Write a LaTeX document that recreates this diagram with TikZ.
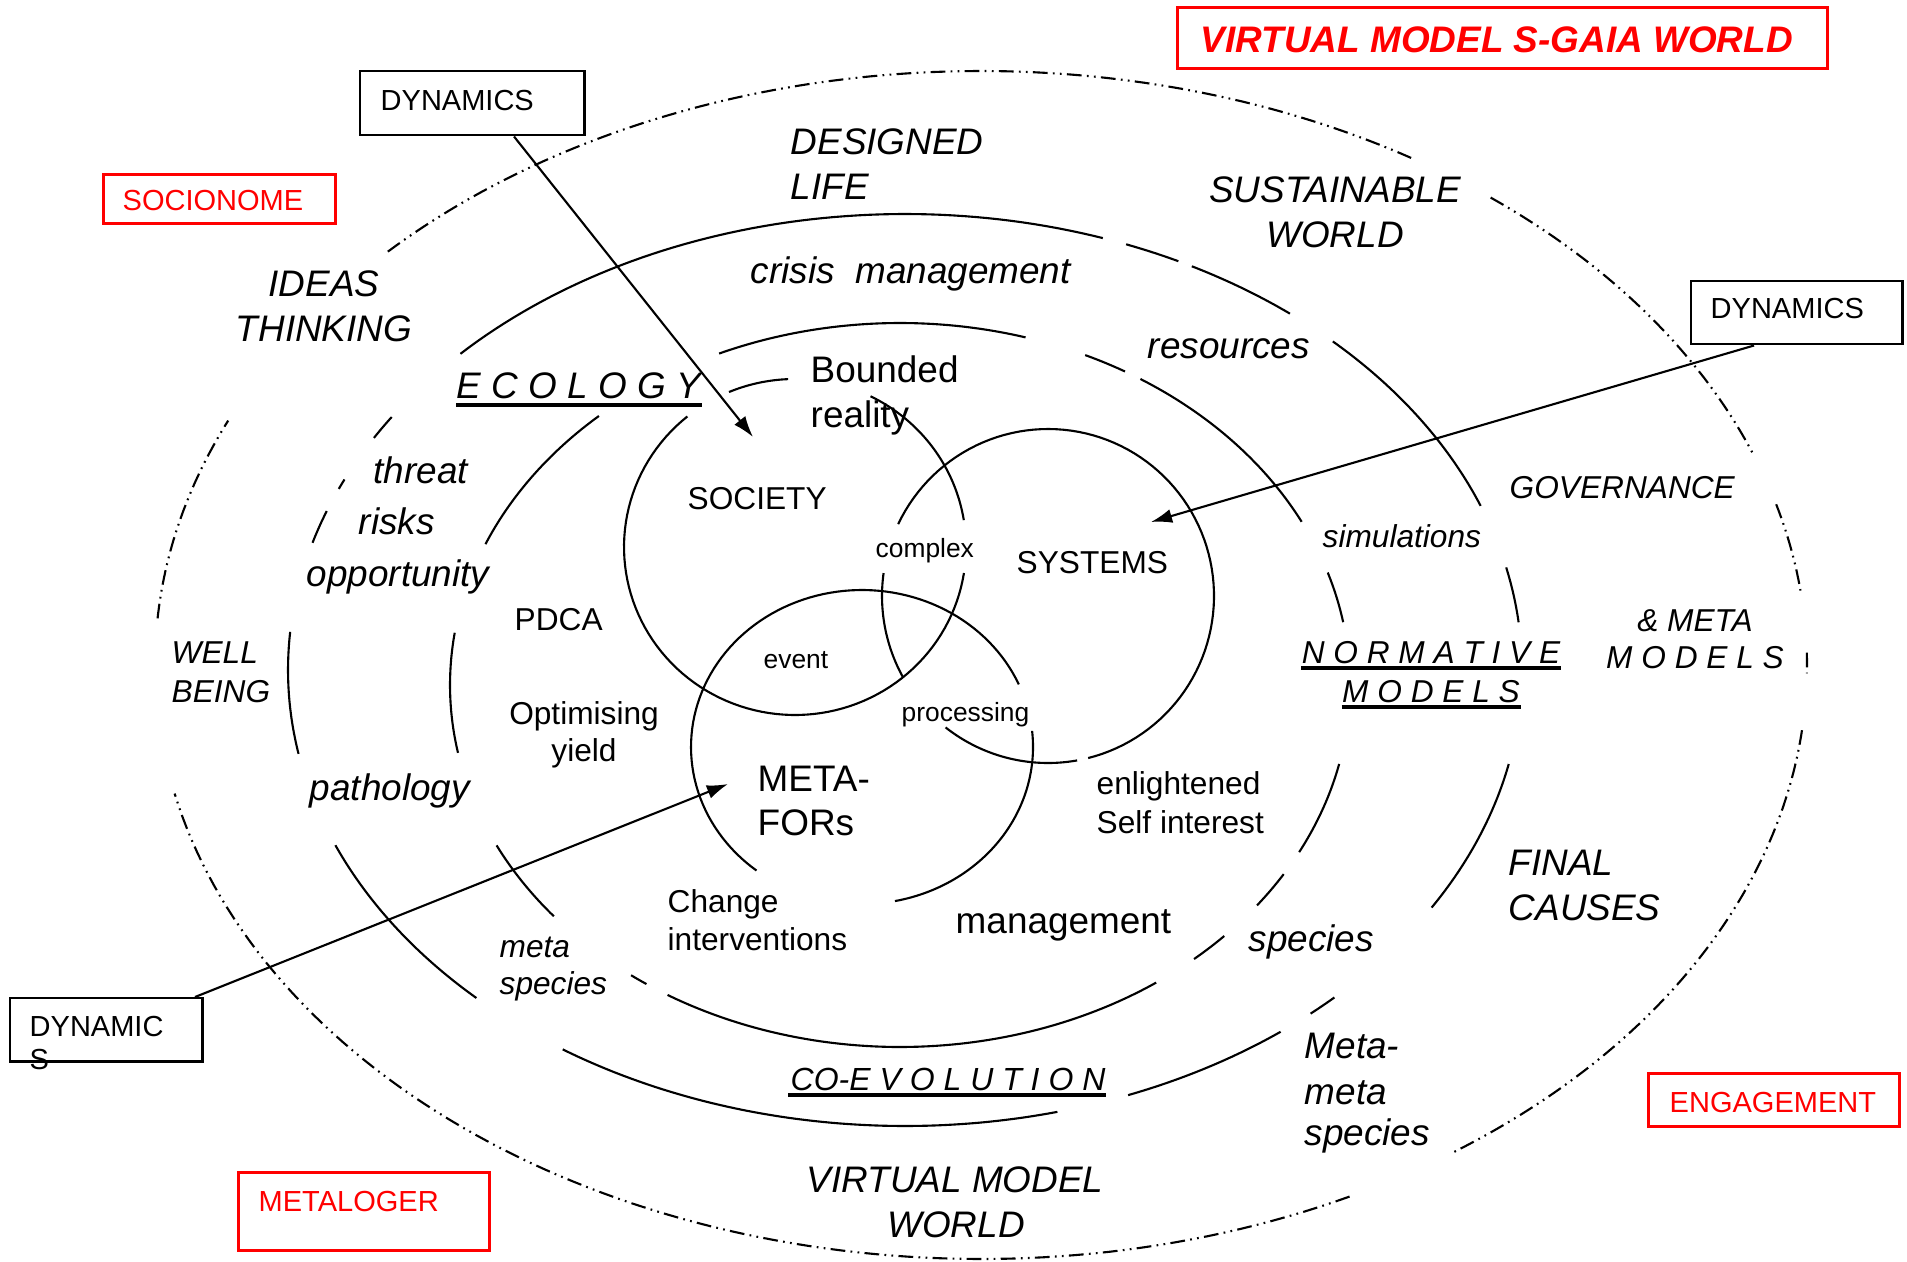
\documentclass[tikz,border=0pt]{standalone}
\usepackage{fontspec}
\setmainfont{Liberation Sans}
\usetikzlibrary{arrows.meta,calc}
\newcommand\szA{\fontsize{10.5}{12.6}\selectfont}
\newcommand\szB{\fontsize{9}{10.8}\selectfont}
\newcommand\szC{\fontsize{7.5}{9}\selectfont}
\newcommand\szD{\fontsize{8.25}{9.9}\selectfont}
\newcommand\szE{\fontsize{9.1}{10.9}\selectfont}
\begin{document}
\begin{tikzpicture}[x=0.01cm,y=-0.01cm,
  ring/.style={line width=0.6pt},
  wring/.style={line width=0.6pt, dash pattern=on 4.2pt off 1.5pt on 0.5pt off 1.5pt on 0.5pt off 1.5pt},
  blackbox/.style={draw, line width=0.7pt, inner sep=0pt, anchor=north west},
  redbox/.style={draw=red, line width=0.8pt, inner sep=0pt, anchor=north west},
  txt/.style={inner sep=0pt, anchor=base west},
  ctxt/.style={inner sep=0pt, anchor=base},
  ul/.style={line width=0.9pt},
  arr/.style={line width=0.6pt, -{Latex[length=6pt,width=4pt]}}
]
\useasboundingbox (0,0) rectangle (1907,1261);
\fill[white] (0,0) rectangle (1907,1261);

% boxes
\node[redbox, minimum width=6.5cm, minimum height=0.61cm] (ttlbox) at (1176,6) {};
\node[redbox, minimum width=2.32cm, minimum height=0.49cm] (socbox) at (102,173) {};
\node[redbox, minimum width=2.51cm, minimum height=0.78cm] (metbox) at (237,1171) {};
\node[redbox, minimum width=2.51cm, minimum height=0.53cm] (engbox) at (1647,1072) {};
\node[blackbox, minimum width=2.24cm, minimum height=0.64cm] (dynA) at (359,70) {};
\node[blackbox, minimum width=2.11cm, minimum height=0.63cm] (dynB) at (1690,280) {};
\node[blackbox, minimum width=1.92cm, minimum height=0.63cm] (dynC) at (9,997) {};

% outer dash-dot world ellipse
\foreach \a/\b in {224.1/301.4, 308.1/339.1, 344.3/352.8, 358.8/360.8, 366.3/415.2, 63.5/167.5, 184.5/204.3}
  \draw[wring] plot[domain=\a:\b, samples=90, variable=\t] ({981+826*cos(\t)},{665+594*sin(\t)});
% ring 3
\foreach \a/\b in {223.9/288.7, 291.0/296.3, 297.7/308.6, 313.9/338.9, 347.0/354.0, 11.9/31.4, 45.9/48.9, 52.5/68.8, 75.7/123.7, 134.0/157.4, 169.4/184.8, 196.2/200.4, 203.4/204.7, 210.6/213.7}
  \draw[ring] plot[domain=\a:\b, samples=60, variable=\t] ({905+617*cos(\t)},{670+456*sin(\t)});
% ring 2
\foreach \a/\b in {246.3/286.2, 294.3/300.0, 302.3/333.2, 341.9/350.0, 12.6/27.5, 31.5/37.5, 43.9/49.2, 55.3/121.1, 124.3/126.7, 140.3/153.7, 169.2/188.3, 202.9/228.0}
  \draw[ring] plot[domain=\a:\b, samples=60, variable=\t] ({900+450*cos(\t)},{685+362*sin(\t)});
% society circle
\foreach \a/\b in {8.9/231.0, 247.3/267.7, 296.2/350.8}
  \draw[ring] plot[domain=\a:\b, samples=90, variable=\t] ({795+171*cos(\t)},{547+168*sin(\t)});
% systems circle
\foreach \a/\b in {205.5/436.0, 79.9/128.1, 150.7/187.9}
  \draw[ring] plot[domain=\a:\b, samples=90, variable=\t] ({1048+166*cos(\t)},{596+167*sin(\t)});
% metafors circle
\foreach \a/\b in {128.1/336.5, 354.1/438.9}
  \draw[ring] plot[domain=\a:\b, samples=90, variable=\t] ({862+171*cos(\t)},{747+157*sin(\t)});

% arrows
\coordinate (tA) at (753,437);
\coordinate (tB) at (1151,522);
\coordinate (tC) at (728,784);
\draw[arr] ($(dynA.south west)+(155,0)$) -- (tA);
\draw[arr] ($(dynB.south west)+(64,0)$) -- (tB);
\draw[arr] ($(dynC.north west)+(186,0)$) -- (tC);

% box labels
\node[txt, font=\szA\bfseries\itshape, text=red] (ttl) at (1200,53) {VIRTUAL MODEL S-GAIA WORLD};
\node[txt, font=\szD, text=red] (socl) at (122,211) {SOCIONOME};
\node[txt, font=\szD, text=red] (metl) at (258,1211) {METALOGER};
\node[txt, font=\szD, text=red] (engl) at (1669,1112) {ENGAGEMENT};
\node[txt, font=\szD] (dynAl) at (380,111) {DYNAMICS};
\node[txt, font=\szD] (dynBl) at (1710,319) {DYNAMICS};
\node[txt, font=\szD] (dynCl) at (29,1036) {DYNAMIC};
\node[txt, font=\szD] (dynCs) at (29,1069) {S};

% main labels
\node[txt, font=\szA\itshape] (des1) at (790,155) {DESIGNED};
\node[txt, font=\szA\itshape] (des2) at (790,200) {LIFE};
\node[ctxt, font=\szA\itshape] (sus1) at (1335,203) {SUSTAINABLE};
\node[ctxt, font=\szA\itshape] (sus2) at (1335,248) {WORLD};
\node[ctxt, font=\szA\itshape] (ide1) at (324,297) {IDEAS};
\node[ctxt, font=\szA\itshape] (ide2) at (324,342) {THINKING};
\node[txt, font=\szA\itshape] (cri) at (750,284) {crisis\ \ management};
\node[txt, font=\szA\itshape] (res) at (1147,358) {resources};
\node[txt, font=\szA] (bou1) at (810,383) {Bounded};
\node[txt, font=\szA] (bou2) at (810,427) {reality};
\node[txt, font=\szA\itshape] (eco) at (456,399) {E C O L O G Y};
\node[txt, font=\szB] (soc) at (687,509) {SOCIETY};
\node[txt, font=\szC] (cpx) at (875,557) {complex};
\node[txt, font=\szB] (sys) at (1016,573) {SYSTEMS};
\node[txt, font=\szA\itshape] (thr) at (373,483) {threat};
\node[txt, font=\szA\itshape] (rsk) at (358,534) {risks};
\node[txt, font=\szA\itshape] (opp) at (306,586) {opportunity};
\node[txt, font=\szB] (pdca) at (514,630) {PDCA};
\node[txt, font=\szB\itshape] (sim) at (1322,547) {simulations};
\node[txt, font=\szB\itshape] (gov) at (1509,498) {GOVERNANCE};
\node[ctxt, font=\szB\itshape] (mm1) at (1695,631) {\& META};
\node[ctxt, font=\szB\itshape] (mm2) at (1695,668) {M O D E L S};
\node[ctxt, font=\szB\itshape] (nor1) at (1431,663) {N O R M A T I V E};
\node[ctxt, font=\szB\itshape] (nor2) at (1431,702) {M O D E L S};
\node[txt, font=\szB\itshape] (wb1) at (171,663) {WELL};
\node[txt, font=\szB\itshape] (wb2) at (171,702) {BEING};
\node[ctxt, font=\szB] (opt1) at (584,724) {Optimising};
\node[ctxt, font=\szB] (opt2) at (584,761) {yield};
\node[txt, font=\szC] (evt) at (763,668) {event};
\node[txt, font=\szC] (prc) at (901,721) {processing};
\node[txt, font=\szA] (mf1) at (757,791) {META-};
\node[txt, font=\szA] (mf2) at (757,835) {FORs};
\node[txt, font=\szA\itshape] (pat) at (309,800) {pathology};
\node[txt, font=\szB] (chg1) at (667,912) {Change};
\node[txt, font=\szB] (chg2) at (667,950) {interventions};
\node[txt, font=\szA] (mgt) at (955,933) {management};
\node[txt, font=\szB] (enl1) at (1096,794) {enlightened};
\node[txt, font=\szB] (enl2) at (1096,833) {Self interest};
\node[txt, font=\szA\itshape] (spc) at (1248,951) {species};
\node[txt, font=\szB\itshape] (ms1) at (499,957) {meta};
\node[txt, font=\szB\itshape] (ms2) at (499,994) {species};
\node[txt, font=\szA\itshape] (fin1) at (1508,875) {FINAL};
\node[txt, font=\szA\itshape] (fin2) at (1508,920) {CAUSES};
\node[txt, font=\szA\itshape] (mms1) at (1304,1058) {Meta-};
\node[txt, font=\szA\itshape] (mms2) at (1304,1104) {meta};
\node[txt, font=\szA\itshape] (mms3) at (1304,1145) {species};
\node[txt, font=\szE\itshape] (coe) at (790,1090) {CO-E V O L U T I O N};
\node[ctxt, font=\szA\itshape] (vmw1) at (955,1192) {VIRTUAL MODEL};
\node[ctxt, font=\szA\itshape] (vmw2) at (956,1237) {WORLD};

% underlines
\draw[ul] ($(eco.base west)+(0,6)$) -- ($(eco.base east)+(0,6)$);
\draw[ul] ($(nor1.base west)+(0,5)$) -- ($(nor1.base east)+(0,5)$);
\draw[ul] ($(nor2.base west)+(0,5)$) -- ($(nor2.base east)+(0,5)$);
\draw[ul] ($(coe.base west)+(-2,5)$) -- ($(coe.base east)+(0,5)$);
\end{tikzpicture}
\end{document}
